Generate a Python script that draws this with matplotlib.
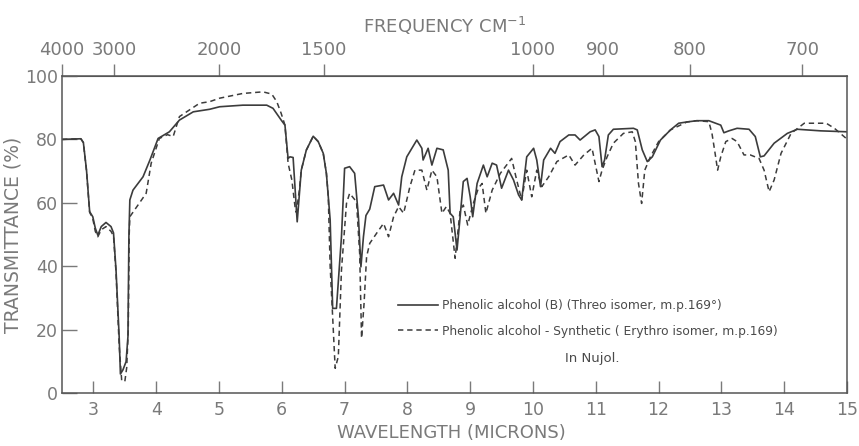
import numpy as np
import matplotlib
matplotlib.use("Agg")
import matplotlib.pyplot as plt

# spectrum: wavelength (microns) / transmittance (%)
threo_wl = [2.50, 2.80, 2.84, 2.89, 2.94, 2.99, 3.03, 3.07, 3.125, 3.20, 3.28, 3.32, 3.36, 3.41,
            3.43, 3.47, 3.52, 3.55, 3.565, 3.58, 3.63, 3.79, 3.90, 4.03, 4.21, 4.37, 4.59, 4.85,
            5.01, 5.38, 5.76, 5.86, 5.99, 6.05, 6.10, 6.13, 6.18, 6.245, 6.31, 6.39, 6.50, 6.58,
            6.66, 6.71, 6.77, 6.81, 6.87, 6.95, 7.00, 7.08, 7.16, 7.22, 7.26, 7.30, 7.34, 7.40,
            7.48, 7.62, 7.70, 7.78, 7.86, 7.91, 7.99, 8.15, 8.23, 8.25, 8.33, 8.39, 8.47, 8.57,
            8.65, 8.68, 8.73, 8.79, 8.83, 8.89, 8.95, 9.00, 9.04, 9.11, 9.21, 9.27, 9.35, 9.42,
            9.50, 9.61, 9.69, 9.77, 9.82, 9.90, 10.01, 10.06, 10.12, 10.17, 10.28, 10.35, 10.43,
            10.57, 10.67, 10.75, 10.91, 10.99, 11.05, 11.10, 11.14, 11.20, 11.28, 11.60, 11.66,
            11.74, 11.82, 11.90, 12.03, 12.19, 12.32, 12.45, 12.61, 12.80, 12.99, 13.04, 13.12,
            13.25, 13.44, 13.54, 13.62, 13.68, 13.84, 14.05, 14.21, 14.58, 15.00]
threo_t = [80, 80.2, 79, 70.3, 57.2, 55.6, 52, 49.8, 52.5, 53.8, 52.5, 50.5, 38.8, 17.8,
           6, 7.3, 9.9, 17.8, 49.3, 60.9, 64, 68.2, 73.5, 80.3, 82.4, 86.1, 88.7, 89.5,
           90.3, 90.8, 90.8, 89.8, 86.1, 84.5, 74, 74.5, 74.3, 54, 70.3, 76.6, 81, 79.3,
           75.6, 69.3, 54.6, 26.7, 26.7, 49.3, 70.9, 71.4, 69.3, 55.6, 39.8, 49.3, 56, 58,
           65.1, 65.6, 60.9, 63, 59.3, 68.2, 74.5, 79.8, 77.2, 73.5, 77.2, 71.9, 77.2, 76.7,
           70.3, 56.7, 55.6, 45.1, 53.5, 66.7, 67.7, 61.9, 55.6, 66.1, 71.9, 68.2, 72.5, 71.9,
           64.6, 70.3, 67.2, 62.5, 60.9, 74.5, 77.2, 73.5, 65.1, 73.5, 77.2, 75.6, 79.3,
           81.4, 81.4, 79.8, 82.4, 83, 80.9, 71.4, 73.5, 81.4, 83.2, 83.5, 83,
           76.7, 73, 74.5, 79.8, 83, 85.1, 85.5, 85.9, 85.9, 84.5, 82.1, 82.7,
           83.5, 83.2, 80.9, 74.5, 74.8, 78.8, 81.9, 83.2, 82.7, 82.4]

erythro_wl = [2.50, 2.80, 2.84, 2.89, 2.94, 2.99, 3.03, 3.07, 3.125, 3.20, 3.28, 3.32, 3.36, 3.41,
              3.45, 3.50, 3.53, 3.555, 3.57, 3.58, 3.71, 3.84, 3.92, 4.05, 4.18, 4.27, 4.37, 4.69,
              4.85, 5.01, 5.38, 5.70, 5.84, 5.92, 5.99, 6.05, 6.10, 6.16, 6.21, 6.23, 6.28, 6.31,
              6.39, 6.50, 6.58, 6.66, 6.71, 6.74, 6.77, 6.85, 6.90, 6.95, 7.03, 7.08, 7.19, 7.24,
              7.27, 7.31, 7.35, 7.40, 7.51, 7.62, 7.70, 7.78, 7.86, 7.94, 8.04, 8.12, 8.23, 8.31,
              8.39, 8.47, 8.55, 8.62, 8.68, 8.76, 8.84, 8.89, 8.96, 9.05, 9.13, 9.19, 9.25, 9.35,
              9.48, 9.66, 9.74, 9.82, 9.90, 9.98, 10.06, 10.14, 10.25, 10.38, 10.57, 10.67, 10.81,
              10.94, 10.99, 11.05, 11.10, 11.18, 11.28, 11.44, 11.58, 11.63, 11.68, 11.73, 11.78,
              11.87, 12.00, 12.19, 12.45, 12.61, 12.80, 12.85, 12.90, 12.94, 12.99, 13.07, 13.17,
              13.25, 13.36, 13.46, 13.60, 13.68, 13.76, 13.84, 13.95, 14.11, 14.32, 14.67, 14.80,
              15.00]
erythro_t = [80, 80.2, 79, 70, 57, 55, 51, 49.3, 51.5, 52.5, 51, 49.5, 38, 15,
             4, 3.6, 8, 20, 50, 55.6, 59.3, 63, 72.5, 80.3, 81.5, 80.9, 87.2, 91.4,
             91.9, 93, 94.5, 95, 94.3, 91.9, 88.2, 84.5, 72.5, 67.2, 58.8, 57, 64, 70.3,
             76.6, 81, 79.3, 75.6, 69.3, 62, 40, 7.8, 11.5, 38.8, 59.8, 63, 60.3, 44,
             17.3, 28.3, 43, 47.2, 50.4, 53.5, 49.3, 55.6, 58.8, 56.7, 65.1, 70.3, 70.3, 64,
             70.3, 68.2, 56.7, 58.8, 56.7, 42.5, 57.7, 59.3, 53, 59.8, 64.6, 66.1, 56.7, 64,
             69.3, 74, 67.2, 60.9, 70.3, 61.9, 70.3, 65.1, 68.2, 73, 75.1, 71.9, 75.1,
             77.2, 72.5, 66.7, 70.3, 74.5, 78.8, 81.9, 82.4, 79.3, 66.1, 59.8, 70.3,
             74.5, 79.3, 83, 85.5, 85.9, 85.6, 81.9, 75.6, 70.3, 74.5, 79.3, 80.3,
             79.3, 75.1, 75.1, 74, 70.3, 63.5, 67.2, 75.6, 81.9, 85.1, 85.1, 83.5,
             80.1]

wl_ticks = list(range(3, 16))
t_ticks = [0, 20, 40, 60, 80, 100]
freq_ticks = [4000, 3000, 2000, 1500, 1000, 900, 800, 700]

label_threo = "Phenolic alcohol (B) (Threo isomer, m.p.169\u00b0)"
label_erythro = "Phenolic alcohol - Synthetic ( Erythro isomer, m.p.169)"

ink = "#3c3c3c"
grey = "#7a7a7a"
plt.rcParams["font.family"] = ["DejaVu Sans"]

fig = plt.figure(figsize=(8.59, 4.46), dpi=100)
ax = fig.add_axes([0.0722, 0.1188, 0.9138, 0.7108])

ax.plot(threo_wl, threo_t, color=ink, lw=1.2, label=label_threo)
ax.plot(erythro_wl, erythro_t, color=ink, lw=1.1, dashes=(3.5, 2.5), label=label_erythro)

ax.set_xlim(2.5, 15)
ax.set_ylim(0, 100)
ax.set_xticks(wl_ticks)
ax.set_yticks(t_ticks)
ax.tick_params(axis="x", direction="in", length=9, width=1, colors=grey,
               labelsize=12.5, pad=6, top=False)
ax.tick_params(axis="y", direction="in", length=11, width=1, colors=grey,
               labelsize=12.5, pad=3)
for s in ax.spines.values():
    s.set_color("#555555")
    s.set_linewidth(1.1)

sec = ax.secondary_xaxis("top", functions=(lambda x: 1e4 / np.maximum(x, 1e-6),
                                           lambda f: 1e4 / np.maximum(f, 1e-6)))
sec.set_xticks(freq_ticks)
sec.tick_params(direction="out", length=9, width=1, colors=grey, labelsize=13, pad=3)
sec.spines["top"].set_color("#555555")

ax.set_xlabel("WAVELENGTH (MICRONS)", color=grey, fontsize=13, labelpad=3)
ax.xaxis.label.set_x(0.496)
ax.set_ylabel("TRANSMITTANCE (%)", color=grey, fontsize=13.5, labelpad=2)
sec.set_xlabel("FREQUENCY CM$^{-1}$", color=grey, fontsize=13, labelpad=6)
sec.xaxis.label.set_x(0.487)

leg = ax.legend(loc="center left", bbox_to_anchor=(0.428, 0.236), frameon=False,
                fontsize=8.8, handlelength=3.3, handletextpad=0.3, labelspacing=1.05,
                borderpad=0, borderaxespad=0)
for t in leg.get_texts():
    t.set_color("#4a4a4a")
ax.text(0.641, 0.11, "In Nujol.", transform=ax.transAxes, fontsize=9.5,
        color="#4a4a4a", va="center", ha="left")

fig.savefig("out.png", dpi=100)
